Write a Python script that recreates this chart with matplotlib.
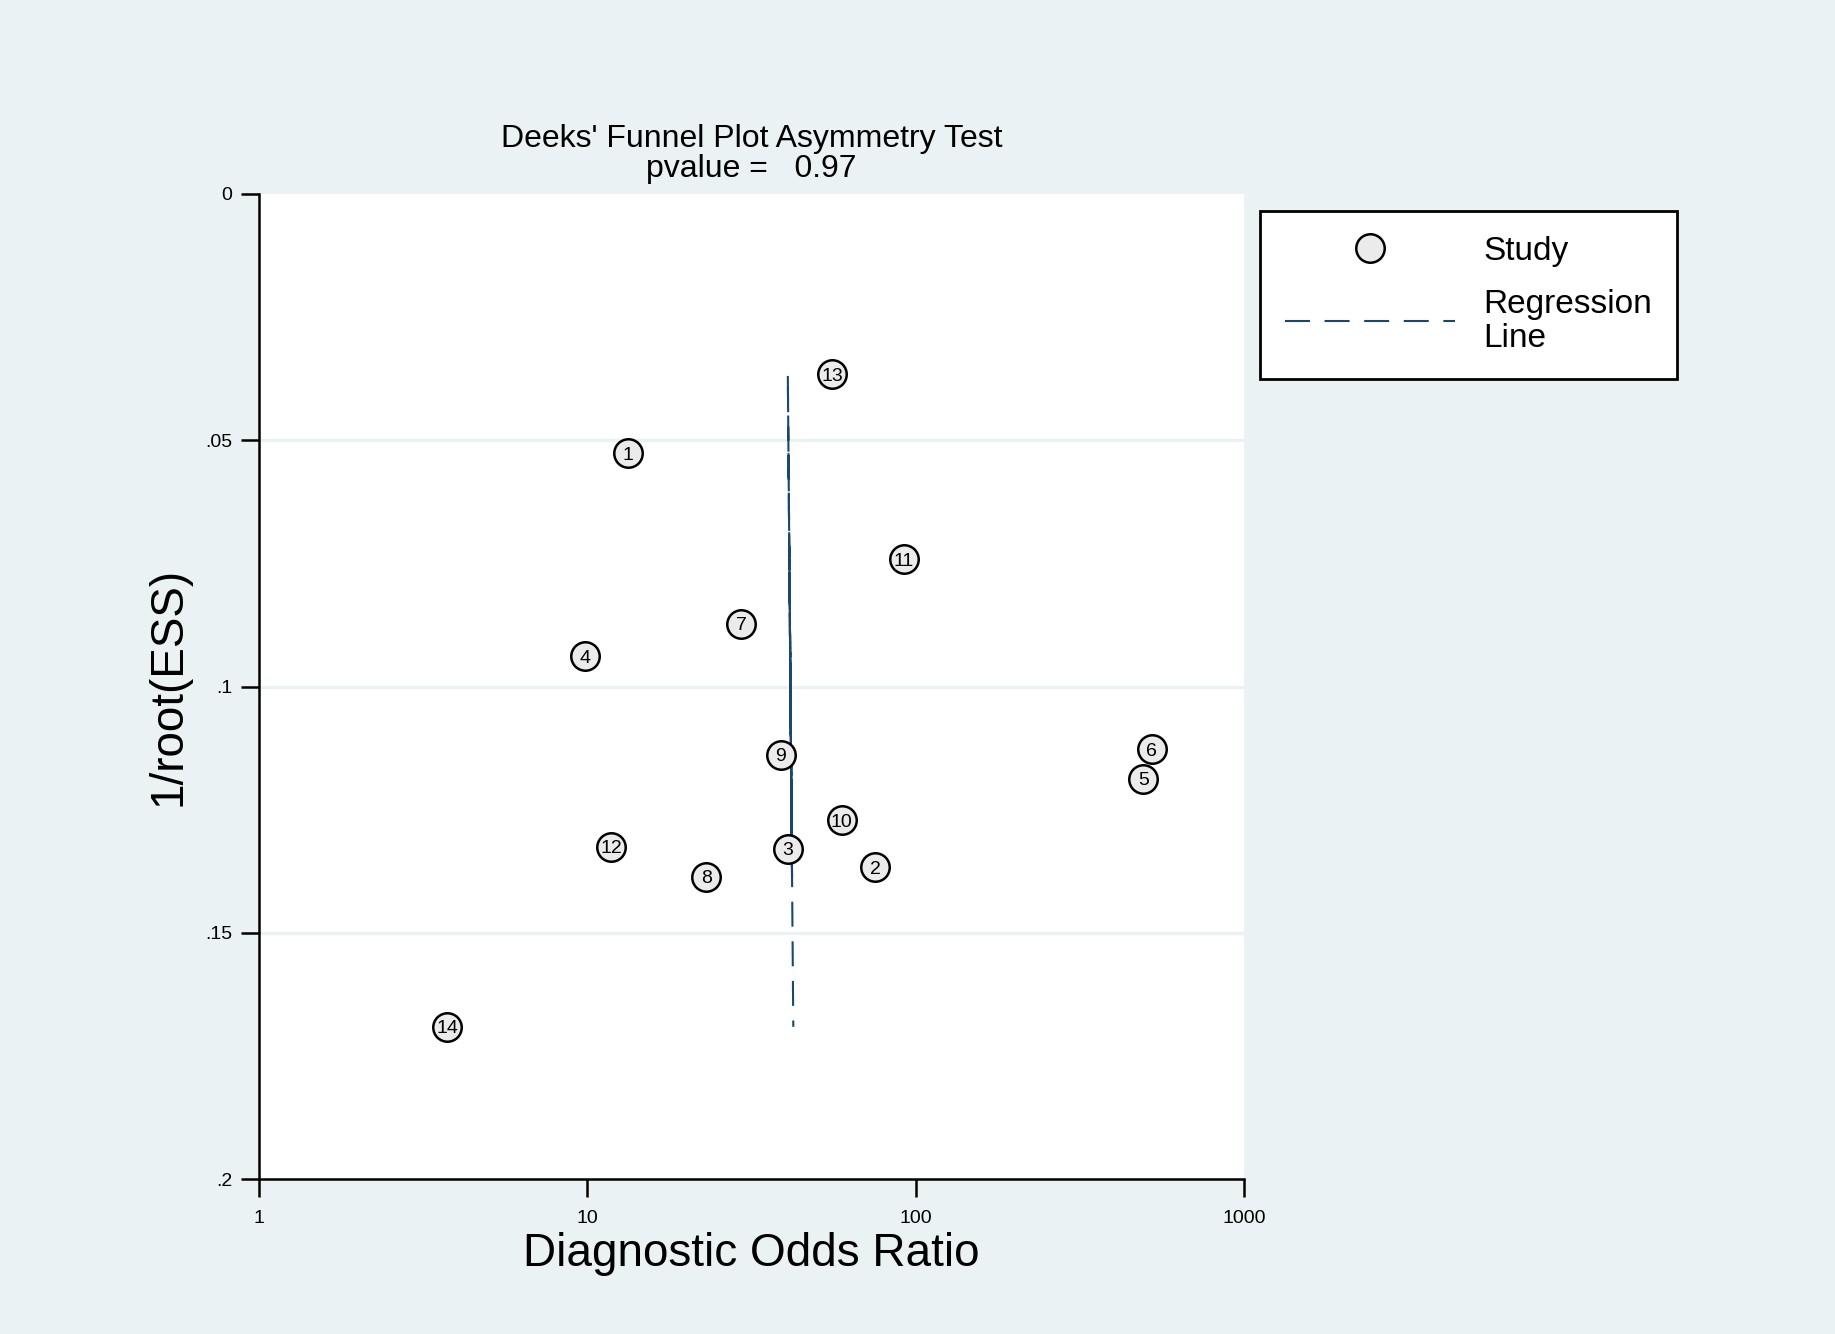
import numpy as np
import matplotlib.pyplot as plt
from matplotlib.ticker import NullLocator
from matplotlib.lines import Line2D

plt.rcParams['font.family'] = ['Liberation Sans', 'DejaVu Sans']

# study data
study_ids = [1, 2, 3, 4, 5, 6, 7, 8, 9, 10, 11, 12, 13, 14]
dor = [13.3, 75.4, 40.8, 9.86, 494, 523, 29.4, 23.0, 38.8, 59.5, 91.9, 11.8, 55.7, 3.75]
inv_root_ess = [0.0526, 0.1367, 0.1329, 0.0939, 0.1187, 0.1127, 0.0873, 0.1386,
                0.1139, 0.1272, 0.0742, 0.1325, 0.0366, 0.1691]

# regression of log10(DOR) on 1/root(ESS)
reg_intercept = 1.606
reg_slope = 0.126

x_ticks = [1, 10, 100, 1000]
x_ticklabels = ['1', '10', '100', '1000']
y_ticks = [0, 0.05, 0.1, 0.15, 0.2]
y_ticklabels = ['0', '.05', '.1', '.15', '.2']
grid_y = [0.05, 0.1, 0.15]

bg = '#eaf2f3'
navy = '#1a476f'
face = '#ebebeb'

fig = plt.figure(figsize=(18.35, 13.34), dpi=100, facecolor=bg)
ax = fig.add_axes([259 / 1835, 1 - 1179 / 1334, 985 / 1835, 985 / 1334])
ax.set_facecolor('white')

for g in grid_y:
    ax.axhline(g, color=bg, lw=2.3, zorder=0)

# fitted line, connected in study order (as the original software does)
fitted = 10 ** (reg_intercept + reg_slope * np.array(inv_root_ess))
ax.plot(fitted, inv_root_ess, color=navy, lw=1.5, ls=(0, (12, 7)), zorder=2)

ax.plot(dor, inv_root_ess, 'o', ms=20.5, mfc=face, mec='black', mew=1.8, zorder=3)
for sid, xv, yv in zip(study_ids, dor, inv_root_ess):
    ax.text(xv, yv, str(sid), ha='center', va='center_baseline', fontsize=14, zorder=4)

ax.set_xscale('log')
ax.set_xlim(1, 1000)
ax.set_ylim(0.2, 0)
ax.set_xticks(x_ticks)
ax.set_xticklabels(x_ticklabels)
ax.xaxis.set_minor_locator(NullLocator())
ax.set_yticks(y_ticks)
ax.set_yticklabels(y_ticklabels)

for s in ['top', 'right']:
    ax.spines[s].set_visible(False)
for s in ['left', 'bottom']:
    ax.spines[s].set_linewidth(1.8)
ax.tick_params(axis='both', length=13, width=1.8, labelsize=14)
ax.tick_params(axis='y', pad=6)
ax.tick_params(axis='x', pad=9)

ax.set_xlabel('Diagnostic Odds Ratio', fontsize=33, labelpad=4)
ax.set_ylabel('1/root(ESS)', fontsize=33, labelpad=11)
ax.set_title("Deeks' Funnel Plot Asymmetry Test\npvalue =   0.97", fontsize=23,
             pad=12, linespacing=1.02)

handles = [
    Line2D([], [], marker='o', ls='none', ms=20.5, mfc=face, mec='black', mew=1.8),
    Line2D([], [], color=navy, lw=1.5, ls=(0, (12, 7))),
]
leg = fig.legend(handles, ['Study', 'Regression\nLine'], loc='upper left',
                 bbox_to_anchor=(1260 / 1835, 1 - 211 / 1334), fontsize=24,
                 frameon=True, fancybox=False, edgecolor='black', framealpha=1,
                 handlelength=5.1, handletextpad=0.85, borderpad=0.75,
                 labelspacing=0.65, borderaxespad=0)
leg.get_frame().set_linewidth(2)
for t in leg.get_texts():
    t.set_linespacing(1.12)

fig.savefig('out.png', dpi=100, facecolor=bg)
